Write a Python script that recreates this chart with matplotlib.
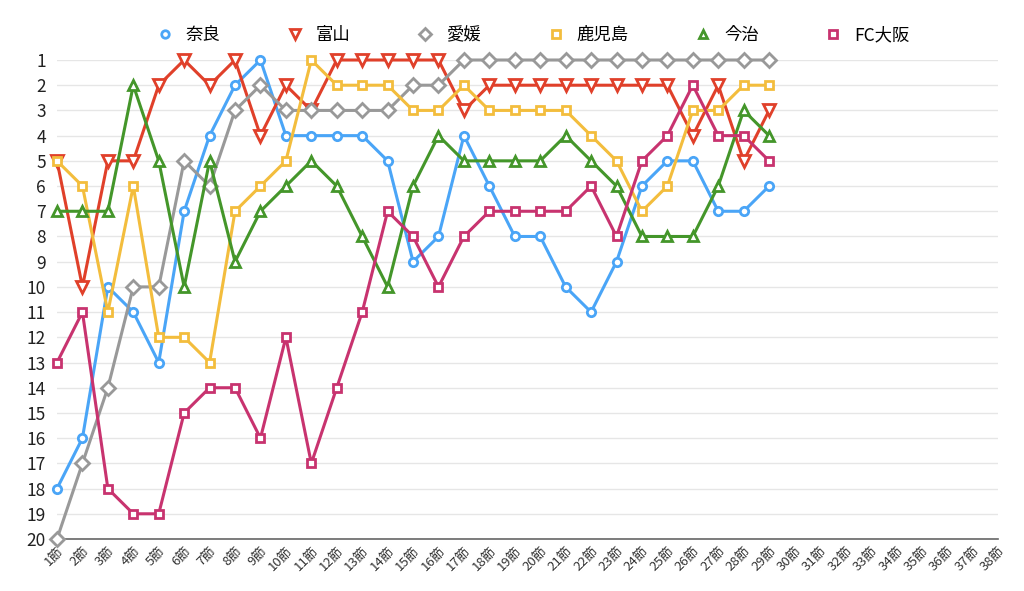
import matplotlib
matplotlib.use("Agg")
import matplotlib.pyplot as plt
from matplotlib.lines import Line2D

plt.rcParams['font.family'] = ['Noto Sans CJK JP', 'DejaVu Sans']

rounds = [f"{i}節" for i in range(1, 39)]
teams = ["奈良", "富山", "愛媛", "鹿児島", "今治", "FC大阪"]

nara = [18, 16, 10, 11, 13, 7, 4, 2, 1, 4, 4, 4, 4, 5, 9, 8, 4, 6, 8, 8, 10, 11, 9, 6, 5, 5, 7, 7, 6]
toyama = [5, 10, 5, 5, 2, 1, 2, 1, 4, 2, 3, 1, 1, 1, 1, 1, 3, 2, 2, 2, 2, 2, 2, 2, 2, 4, 2, 5, 3]
ehime = [20, 17, 14, 10, 10, 5, 6, 3, 2, 3, 3, 3, 3, 3, 2, 2, 1, 1, 1, 1, 1, 1, 1, 1, 1, 1, 1, 1, 1]
kagoshima = [5, 6, 11, 6, 12, 12, 13, 7, 6, 5, 1, 2, 2, 2, 3, 3, 2, 3, 3, 3, 3, 4, 5, 7, 6, 3, 3, 2, 2]
imabari = [7, 7, 7, 2, 5, 10, 5, 9, 7, 6, 5, 6, 8, 10, 6, 4, 5, 5, 5, 5, 4, 5, 6, 8, 8, 8, 6, 3, 4]
fcosaka = [13, 11, 18, 19, 19, 15, 14, 14, 16, 12, 17, 14, 11, 7, 8, 10, 8, 7, 7, 7, 7, 6, 8, 5, 4, 2, 4, 4, 5]

series = [nara, toyama, ehime, kagoshima, imabari, fcosaka]
colors = ["#4aa5f7", "#e0402a", "#999999", "#f3bd3d", "#44962a", "#c8336f"]
markers = ["o", "v", "D", "s", "^", "s"]
msizes = [6, 8, 7, 6, 7, 6]

fig = plt.figure(figsize=(10.24, 5.91), dpi=100)
ax = fig.add_axes([57/1024, 1 - 539/591, (998 - 57)/1024, (539 - 60)/591])

x_all = list(range(len(rounds)))
for name, vals, c, m, ms in zip(teams, series, colors, markers, msizes):
    ax.plot(x_all[:len(vals)], vals, color=c, lw=2.2, marker=m, ms=ms,
            mfc="white", mec=c, mew=2, label=name, clip_on=False, zorder=3)

ax.set_xlim(0, len(rounds) - 1)
ax.set_ylim(20, 1)
ax.set_yticks(range(1, 21))
ax.set_xticks(x_all)
ax.set_xticklabels(rounds, rotation=45, ha="right", rotation_mode="anchor",
                   fontsize=9.5, color="#333333")
ax.tick_params(axis="y", length=0, labelsize=12.5, pad=8, labelcolor="#222222")
ax.tick_params(axis="x", length=0, pad=4)
ax.grid(axis="y", color="#e6e6e6", lw=1)
ax.set_axisbelow(True)
for s in ["top", "right", "left"]:
    ax.spines[s].set_visible(False)
ax.spines["bottom"].set_color("#666666")
ax.spines["bottom"].set_linewidth(1.2)

hs = [Line2D([], [], ls="none", marker=m, ms=ms*0.9, mfc="white", mec=c, mew=2)
      for m, c, ms in zip(markers, colors, msizes)]
fig.legend(hs, teams, loc="center", bbox_to_anchor=(532/1024, 1 - 35/591),
           ncol=6, frameon=False, fontsize=12.5, columnspacing=3.7,
           handletextpad=0.6, handlelength=1.2)

fig.savefig("out.png", dpi=100, facecolor="white")
